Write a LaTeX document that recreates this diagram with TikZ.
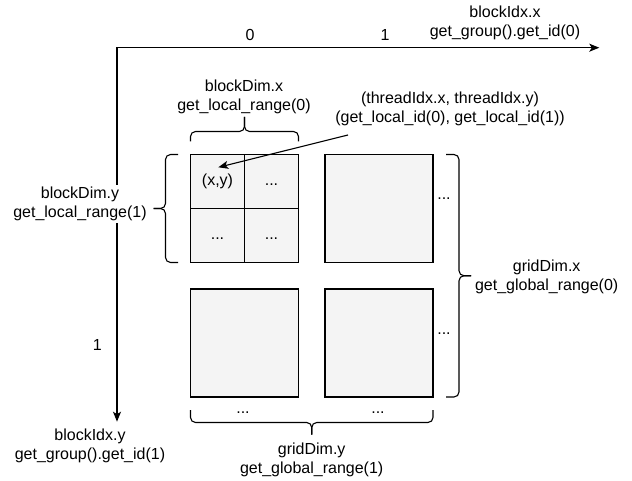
\documentclass[tikz,border=0pt]{standalone}
\usepackage{fontspec}
\setmainfont{Liberation Sans}
\usetikzlibrary{arrows.meta}
\definecolor{boxgrey}{HTML}{F4F4F4}
\begin{document}
\begin{tikzpicture}[x=1pt,y=-1pt,
  lbl/.style={font=\fontsize{16}{19}\selectfont, align=center, inner sep=0pt},
  block/.style={draw=black, fill=boxgrey, line width=1.1pt,
    minimum width=108pt, minimum height=108pt, inner sep=0pt},
  cellbox/.style={draw=black, fill=boxgrey, line width=1.1pt,
    minimum width=54pt, minimum height=54pt, inner sep=0pt,
    font=\fontsize{16}{19}\selectfont, text height=11.5pt, text depth=3.5pt},
  bracestyle/.style={draw=black, line width=1.1pt, rounded corners=5pt},
  tip/.style={-{Stealth[length=10pt,width=8pt,inset=2.5pt]}},
  axisline/.style={line width=1.1pt}
]
\useasboundingbox (0,0) rectangle (632,481);

% axes
\coordinate (origin) at (117,47.7);
\coordinate (xend) at (599.3,47.7);
\coordinate (yend) at (117,421.7);
\draw[axisline, {Stealth[length=10pt,width=8pt,inset=2.5pt]}-{Stealth[length=10pt,width=8pt,inset=2.5pt]}]
  (yend) -- (origin) -- (xend);

% axis labels
\node[lbl] (xname) at (505,23.3) {blockIdx.x\\get\_group().get\_id(0)};
\node[lbl] (x0) at (250,35) {0};
\node[lbl] (x1) at (385,35) {1};
\node[lbl] (yname) at (90,446) {blockIdx.y\\get\_group().get\_id(1)};
\node[lbl] (y1) at (97.3,345) {1};

% block (0,0) split into threads
\node[cellbox] (c11) at (217.5,181.5) {(x,y)};
\node[cellbox] (c12) at (271.5,181.5) {...};
\node[cellbox] (c21) at (217.5,235.5) {...};
\node[cellbox] (c22) at (271.5,235.5) {...};

% remaining blocks
\node[block] (b12) at (379,208.5) {};
\node[block] (b21) at (244.5,343) {};
\node[block] (b22) at (379,343) {};

% ellipses beyond the grid
\node[lbl] (d1) at (444,199) {...};
\node[lbl] (d2) at (444,333.5) {...};
\node[lbl] (d3) at (243,412.5) {...};
\node[lbl] (d4) at (378,412.5) {...};

% brace over the block width
\draw[bracestyle] (190.5,141.5) -- (190.5,131.5) -- (244.5,131.5) -- (244.5,117);
\draw[bracestyle] (298.5,141.5) -- (298.5,131.5) -- (244.5,131.5) -- (244.5,117);
\node[lbl] (bdx) at (244,96.5) {blockDim.x\\get\_local\_range(0)};

% brace beside the block height
\draw[bracestyle] (178,154.5) -- (165.5,154.5) -- (165.5,208.5) -- (153.5,208.5);
\draw[bracestyle] (178,262.5) -- (165.5,262.5) -- (165.5,208.5) -- (153.5,208.5);
\node[lbl, fill=white, inner sep=2pt] (bdy) at (80,203.8) {blockDim.y\\get\_local\_range(1)};

% brace beside the grid height
\draw[bracestyle] (446,154.5) -- (459,154.5) -- (459,275.75) -- (471,275.75);
\draw[bracestyle] (446,397) -- (459,397) -- (459,275.75) -- (471,275.75);
\node[lbl] (gdx) at (546.7,277) {gridDim.x\\get\_global\_range(0)};

% brace under the grid width
\draw[bracestyle] (190.5,410) -- (190.5,422.5) -- (311.75,422.5) -- (311.75,434.5);
\draw[bracestyle] (433,410) -- (433,422.5) -- (311.75,422.5) -- (311.75,434.5);
\node[lbl] (gdy) at (311.7,460.3) {gridDim.y\\get\_global\_range(1)};

% thread index label and pointer
\node[lbl] (tid) at (450,109.2) {(threadIdx.x, threadIdx.y)\\(get\_local\_id(0), get\_local\_id(1))};
\coordinate (tstart) at (348,135);
\coordinate (tend) at (218.3,167.3);
\draw[axisline, tip] (tstart) -- (tend);
\end{tikzpicture}
\end{document}
